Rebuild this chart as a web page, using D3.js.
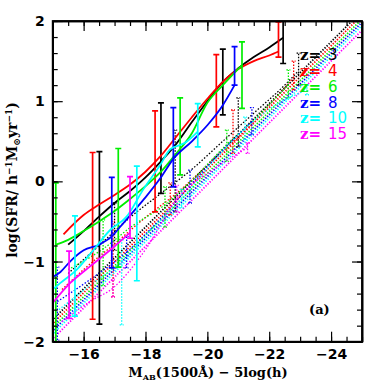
<!DOCTYPE html>
<html>
<head>
<meta charset="utf-8">
<title>SFR vs M_AB</title>
<script src="https://d3js.org/d3.v7.min.js"></script>
<style>
  body { margin: 0; background: #fff; }
  .axis path { stroke: #000; stroke-width: 1.6px; }
  .axis line { stroke: #000; stroke-width: 1.2px; }
  .axis text { font-family: "DejaVu Sans", sans-serif; font-size: 14px; font-weight: bold; fill: #000; }
</style>
</head>
<body>
<script>
// ---- data ----
var redshifts = ["3", "4", "6", "8", "10", "15"];
var colors = ["#000000", "#ff0000", "#00ee00", "#0000ff", "#00ffff", "#ff00ff"];

// solid curves: magnitude and log(SFR)
var solidM = [
  [-15.5, -16.0, -16.5, -17.0, -17.5, -18.0, -18.5, -19.0, -19.5, -20.0, -20.5, -21.0, -21.5, -22.0, -22.45],
  [-15.35, -16.0, -16.5, -17.0, -17.5, -18.0, -18.5, -19.0, -19.5, -20.0, -20.5, -21.0, -21.5, -22.0, -22.3],
  [-15.1, -15.5, -16.0, -16.5, -17.0, -17.5, -18.0, -18.5, -19.0, -19.5, -20.0, -20.5, -21.12],
  [-14.91, -15.25, -15.56, -16.0, -16.5, -16.9, -17.2, -17.6, -18.0, -18.5, -18.9, -19.5, -20.0, -20.5, -20.88],
  [-14.91, -15.24, -15.78, -16.31, -16.85, -17.39, -17.93, -18.47, -18.8, -19.28, -19.69],
  [-14.91, -15.56, -16.21, -16.85, -17.5]
];
var solidY = [
  [-0.79, -0.62, -0.44, -0.27, -0.12, 0.05, 0.25, 0.47, 0.74, 1.0, 1.24, 1.41, 1.55, 1.67, 1.79],
  [-0.66, -0.42, -0.29, -0.17, -0.04, 0.12, 0.32, 0.56, 0.8, 1.03, 1.24, 1.4, 1.5, 1.57, 1.62],
  [-0.79, -0.73, -0.62, -0.5, -0.37, -0.22, -0.06, 0.12, 0.35, 0.6, 0.98, 1.2, 1.45],
  [-1.21, -1.13, -1.0, -0.86, -0.79, -0.69, -0.56, -0.38, -0.2, 0.05, 0.28, 0.5, 0.7, 0.95, 1.2],
  [-1.38, -1.27, -1.1, -0.86, -0.61, -0.44, -0.1, 0.2, 0.4, 0.48, 0.62],
  [-1.56, -1.27, -1.06, -0.86, -0.64]
];
// solid error bars: magnitude, low, high
var solidBarM = [
  [-16.51, -18.5, -20.5, -22.45],
  [-16.29, -18.31, -20.29, -22.3],
  [-15.1, -17.12, -19.12, -21.12],
  [-16.91, -18.9, -20.88],
  [-15.72, -17.72, -19.69],
  [-15.53, -17.5]
];
var solidBarLo = [
  [-1.78, -0.15, 0.83, 1.47],
  [-1.72, -0.38, 0.68, 1.55],
  [-2.2, -1.07, 0.08, 0.91],
  [-1.08, -0.07, 1.2],
  [-1.68, -1.24, 0.43],
  [-1.71, -0.71]
];
var solidBarHi = [
  [0.37, 0.98, 1.65, 2.0],
  [0.36, 0.88, 1.58, 1.99],
  [-0.02, 0.41, 1.04, 1.74],
  [0.05, 0.92, 1.68],
  [-0.43, 0.19, 0.97],
  [-0.87, 0.06]
];

// dotted curves
var dotM = [
  [-15.5, -16.5, -17.5, -18.5, -19.5, -20.5, -21.5, -22.5, -22.95],
  [-15.3, -16.0, -17.0, -18.0, -19.0, -20.0, -21.0, -22.0, -22.8],
  [-15.5, -16.6, -17.6, -18.6, -19.6, -20.6, -21.6, -22.6],
  [-15.15, -16.3, -17.4, -18.4, -19.4, -20.4, -21.45],
  [-15.2, -16.2, -17.23, -18.2, -19.17, -20.2, -21.22, -22.2, -23.22],
  [-15.3, -16.2, -16.95, -18.0, -19.01, -20.2, -21.3]
];
var dotY = [
  [-1.15, -0.8, -0.45, -0.15, 0.15, 0.5, 0.85, 1.2, 1.38],
  [-1.35, -1.1, -0.78, -0.45, -0.15, 0.2, 0.55, 0.95, 1.3],
  [-1.1, -0.85, -0.55, -0.3, 0.05, 0.45, 0.8, 1.2],
  [-1.5, -1.2, -0.88, -0.5, -0.07, 0.35, 0.75],
  [-1.6, -1.3, -1.0, -0.6, -0.22, 0.25, 0.66, 0.95, 1.14],
  [-1.75, -1.5, -1.33, -0.85, -0.22, 0.15, 0.42]
];
var dotBarM = [
  [-17.0, -18.96, -21.0, -22.95],
  [-16.95, -18.8, -20.83, -22.79],
  [-16.63, -18.63, -20.63, -22.62],
  [-15.15, -17.39, -19.44, -21.44],
  [-17.23, -19.17, -21.22, -23.22],
  [-16.95, -19.01, -21.3]
];
var dotBarLo = [
  [-0.86, -0.38, 0.43, 1.2],
  [-1.44, -0.42, 0.35, 1.14],
  [-1.3, -0.57, 0.25, 1.04],
  [-1.98, -1.08, -0.27, 0.58],
  [-1.79, -0.33, 0.52, 1.08],
  [-1.44, -0.38, 0.35]
];
var dotBarHi = [
  [-0.27, 0.64, 1.04, 1.6],
  [-0.5, -0.02, 0.89, 1.5],
  [-0.48, -0.07, 0.64, 1.39],
  [-1.07, -0.69, 0.14, 0.92],
  [-0.73, -0.1, 0.8, 1.2],
  [-1.23, -0.05, 0.48]
];

// straight dotted fits: logSFR = slope * (-M) + intercept
var fitSlope = 0.385;
var fitIntercept = [-7.50, -7.55, -7.60, -7.64, -7.68, -7.74];

var xTicksMajor = [-16, -18, -20, -22, -24];
var yTicksMajor = [-2, -1, 0, 1, 2];

// ---- layout ----
var W = 382, H = 382;
var pL = 52.7, pR = 362, pT = 21, pB = 341.7;

var svg = d3.select("body").append("svg")
  .attr("width", W)
  .attr("height", H);

var x = d3.scaleLinear().domain([-15, -25]).range([pL, pR]);
var y = d3.scaleLinear().domain([-2, 2]).range([pB, pT]);

svg.append("clipPath").attr("id", "clip")
  .append("rect")
  .attr("x", pL).attr("y", pT)
  .attr("width", pR - pL).attr("height", pB - pT);

var plot = svg.append("g").attr("clip-path", "url(#clip)");

var line = d3.line()
  .x(function(d) { return x(d[0]); })
  .y(function(d) { return y(d[1]); })
  .curve(d3.curveMonotoneX);

// fits first (bottom layer)
fitIntercept.forEach(function(c, i) {
  var pts = [[-14.5, fitSlope * 14.5 + c], [-25.5, fitSlope * 25.5 + c]];
  plot.append("path")
    .attr("d", d3.line().x(function(d) { return x(d[0]); }).y(function(d) { return y(d[1]); })(pts))
    .attr("fill", "none")
    .attr("stroke", colors[i])
    .attr("stroke-width", 1.8)
    .attr("stroke-dasharray", "1.3,1.6");
});

function drawBars(g, ms, los, his, col, cap, dashed) {
  ms.forEach(function(m, j) {
    var xx = x(m);
    var s = g.append("g")
      .attr("stroke", col)
      .attr("stroke-width", dashed ? 1.3 : 1.7)
      .attr("stroke-dasharray", dashed ? "1.5,1.5" : null);
    s.append("line").attr("x1", xx).attr("x2", xx).attr("y1", y(los[j])).attr("y2", y(his[j]));
    s.append("line").attr("x1", xx - cap).attr("x2", xx + cap).attr("y1", y(los[j])).attr("y2", y(los[j]));
    s.append("line").attr("x1", xx - cap).attr("x2", xx + cap).attr("y1", y(his[j])).attr("y2", y(his[j]));
  });
}

// dotted curves and dotted bars
redshifts.forEach(function(z, i) {
  var pts = dotM[i].map(function(m, j) { return [m, dotY[i][j]]; });
  plot.append("path")
    .attr("d", line(pts))
    .attr("fill", "none")
    .attr("stroke", colors[i])
    .attr("stroke-width", 1.3)
    .attr("stroke-dasharray", "1.5,1.8");
  drawBars(plot, dotBarM[i], dotBarLo[i], dotBarHi[i], colors[i], 2, true);
});

// solid curves and bars
redshifts.forEach(function(z, i) {
  var pts = solidM[i].map(function(m, j) { return [m, solidY[i][j]]; });
  plot.append("path")
    .attr("d", line(pts))
    .attr("fill", "none")
    .attr("stroke", colors[i])
    .attr("stroke-width", 1.8);
  drawBars(plot, solidBarM[i], solidBarLo[i], solidBarHi[i], colors[i], 3, false);
});

// ---- axes ----
var xMinor = d3.range(-15, -25.01, -0.5);
var yMinor = d3.range(-2, 2.01, 0.2);

svg.append("g").attr("class", "axis")
  .attr("transform", "translate(0," + pB + ")")
  .call(d3.axisBottom(x).tickValues(xMinor).tickSize(-5).tickFormat("").tickSizeOuter(0));
svg.append("g").attr("class", "axis")
  .attr("transform", "translate(0," + pB + ")")
  .call(d3.axisBottom(x).tickValues(xTicksMajor).tickSize(-10).tickPadding(7).tickSizeOuter(0));
svg.append("g").attr("class", "axis")
  .attr("transform", "translate(0," + pT + ")")
  .call(d3.axisTop(x).tickValues(xMinor).tickSize(-5).tickFormat("").tickSizeOuter(0));
svg.append("g").attr("class", "axis")
  .attr("transform", "translate(0," + pT + ")")
  .call(d3.axisTop(x).tickValues(xTicksMajor).tickSize(-10).tickFormat("").tickSizeOuter(0));

svg.append("g").attr("class", "axis")
  .attr("transform", "translate(" + pL + ",0)")
  .call(d3.axisLeft(y).tickValues(yMinor).tickSize(-5).tickFormat("").tickSizeOuter(0));
svg.append("g").attr("class", "axis")
  .attr("transform", "translate(" + pL + ",0)")
  .call(d3.axisLeft(y).tickValues(yTicksMajor).tickSize(-10).tickPadding(8).tickFormat(d3.format("d")).tickSizeOuter(0));
svg.append("g").attr("class", "axis")
  .attr("transform", "translate(" + pR + ",0)")
  .call(d3.axisRight(y).tickValues(yMinor).tickSize(-5).tickFormat("").tickSizeOuter(0));
svg.append("g").attr("class", "axis")
  .attr("transform", "translate(" + pR + ",0)")
  .call(d3.axisRight(y).tickValues(yTicksMajor).tickSize(-10).tickFormat("").tickSizeOuter(0));

svg.append("rect")
  .attr("x", pL).attr("y", pT)
  .attr("width", pR - pL).attr("height", pB - pT)
  .attr("fill", "none").attr("stroke", "#000").attr("stroke-width", 1.8);

// ---- labels ----
var xl = svg.append("text")
  .attr("x", 208).attr("y", 377)
  .attr("text-anchor", "middle")
  .style("font-family", "'DejaVu Serif', serif")
  .style("font-size", "13px")
  .style("font-weight", "bold");
xl.append("tspan").text("M");
xl.append("tspan").attr("dy", 3).style("font-size", "8px").text("AB");
xl.append("tspan").attr("dy", -3).text("(1500Å) \u2212 5log(h)");

var yl = svg.append("text")
  .attr("transform", "translate(17,180) rotate(-90)")
  .attr("text-anchor", "middle")
  .style("font-family", "'DejaVu Serif', serif")
  .style("font-size", "14px")
  .style("font-weight", "bold");
yl.append("tspan").text("log(SFR/ h");
yl.append("tspan").attr("dy", -5).style("font-size", "9px").text("\u22121");
yl.append("tspan").attr("dy", 5).text("M");
yl.append("tspan").attr("dy", 3).style("font-size", "9px").text("\u2299");
yl.append("tspan").attr("dy", -3).text("yr");
yl.append("tspan").attr("dy", -5).style("font-size", "9px").text("\u22121");
yl.append("tspan").attr("dy", 5).text(")");

// legend
var legY = [60, 75.5, 91.5, 107.5, 123, 138.5];
redshifts.forEach(function(z, i) {
  svg.append("text")
    .attr("x", 300).attr("y", legY[i])
    .style("font-family", "'DejaVu Serif', serif")
    .style("font-size", "15px")
    .style("font-weight", "bold")
    .attr("fill", colors[i])
    .text("z=");
  svg.append("text")
    .attr("x", 328).attr("y", legY[i])
    .style("font-family", "'DejaVu Sans', sans-serif")
    .style("font-size", "15px")
    .attr("fill", colors[i])
    .text(z);
});

svg.append("text")
  .attr("x", 309).attr("y", 314)
  .style("font-family", "'DejaVu Serif', serif")
  .style("font-size", "13px")
  .style("font-weight", "bold")
  .text("(a)");
</script>
</body>
</html>
